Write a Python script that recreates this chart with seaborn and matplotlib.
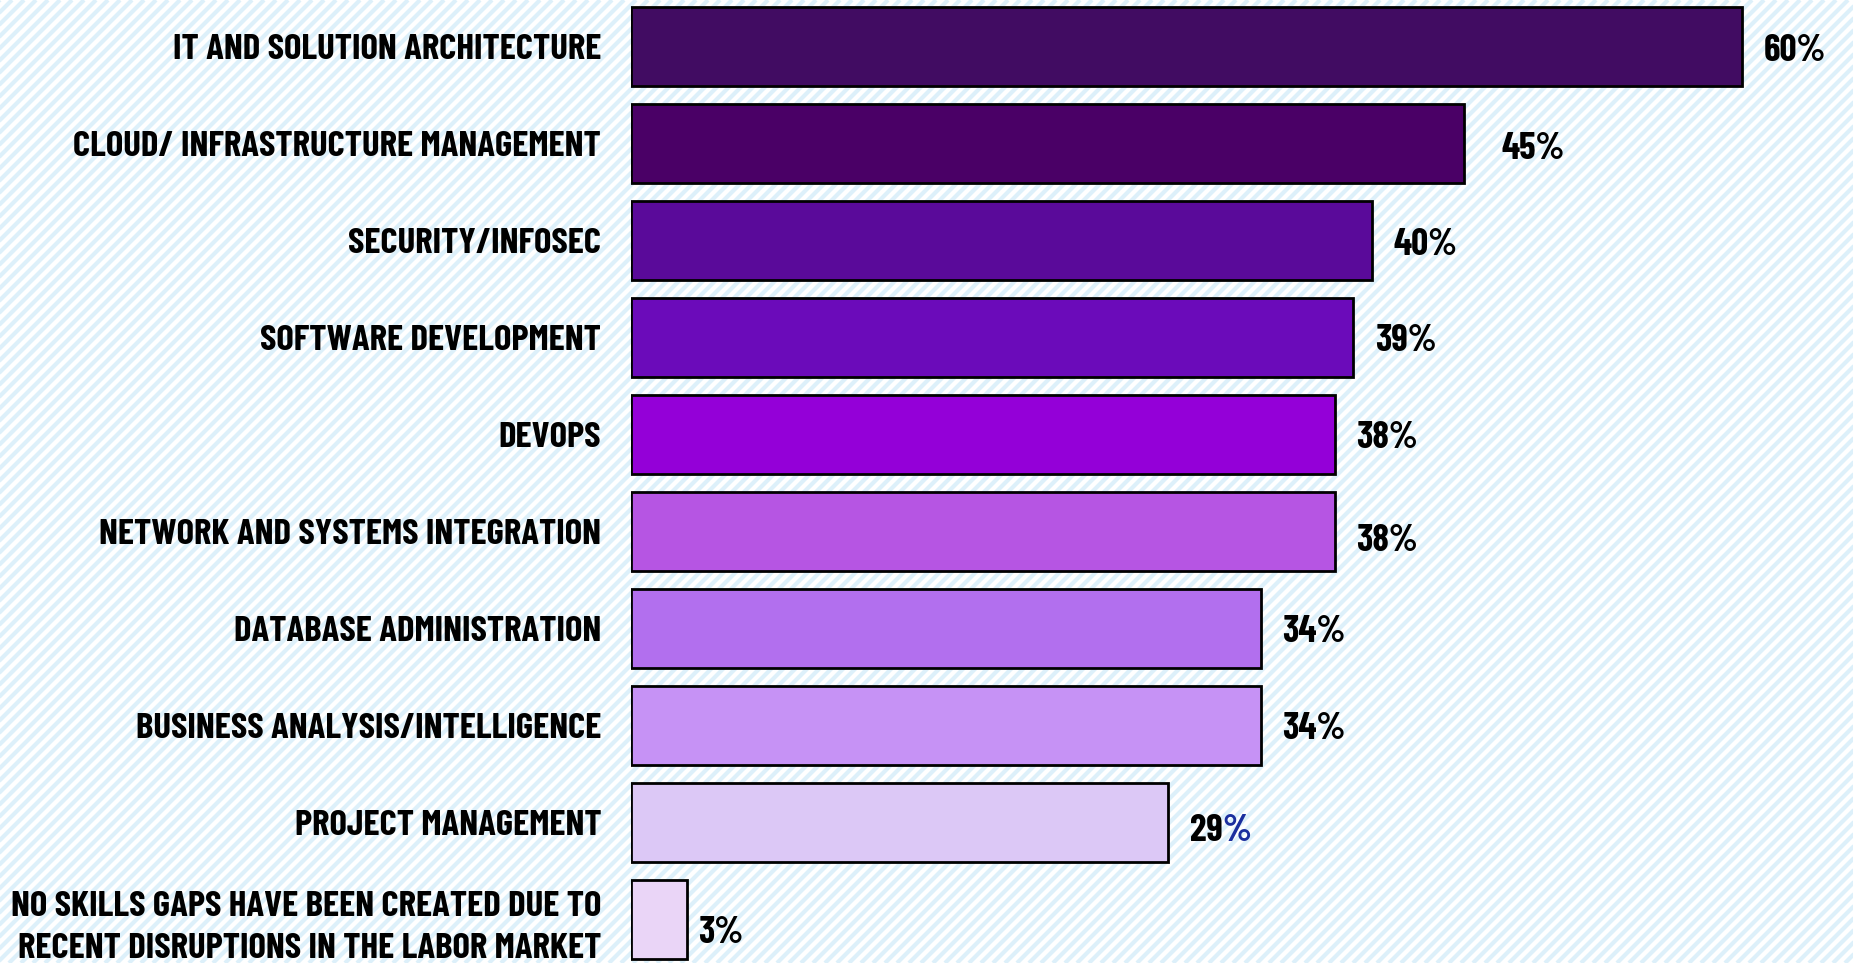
import numpy as np
import pandas as pd
import seaborn as sns
import matplotlib.pyplot as plt

categories = [
    'IT AND SOLUTION ARCHITECTURE',
    'CLOUD/ INFRASTRUCTURE MANAGEMENT',
    'SECURITY/INFOSEC',
    'SOFTWARE DEVELOPMENT',
    'DEVOPS',
    'NETWORK AND SYSTEMS INTEGRATION',
    'DATABASE ADMINISTRATION',
    'BUSINESS ANALYSIS/INTELLIGENCE',
    'PROJECT MANAGEMENT',
    'NO SKILLS GAPS HAVE BEEN CREATED DUE TO\nRECENT DISRUPTIONS IN THE LABOR MARKET',
]
values = [60, 45, 40, 39, 38, 38, 34, 34, 29, 3]
bar_colors = ['#410C62', '#4A0066', '#5A0A9A', '#6B0BBA', '#9400D8',
              '#B655E3', '#B26FEE', '#C692F5', '#DCC8F6', '#EAD5F7']

df = pd.DataFrame({'category': categories, 'value': values})

sns.set_theme(style='white')
plt.rcParams['font.family'] = ['Barlow Condensed', 'DejaVu Sans']

W, H = 1853, 963
fig = plt.figure(figsize=(W / 100, H / 100), dpi=100)
fig.patch.set_facecolor('white')

# striped background
bg = fig.add_axes([0, 0, 1, 1], zorder=0)
bg.set_xlim(0, W)
bg.set_ylim(0, H)
bg.axis('off')
for c in np.arange(-H, W + H, 12):
    bg.plot([c, c + H], [0, H], color='#DDF0FA', lw=3, solid_capstyle='butt')

ax = fig.add_axes([631 / W, 0, 1 - 631 / W, 1], zorder=1)
ax.patch.set_alpha(0)
sns.barplot(data=df, x='value', y='category', hue='category', palette=bar_colors,
            saturation=1, legend=False, orient='h', width=0.82,
            edgecolor='black', linewidth=2, ax=ax)
ax.set_xlim(0, 66)
ax.set_ylim(9.45, -0.48)
ax.set_xlabel('')
ax.set_ylabel('')
ax.set_xticks([])
for s in ax.spines.values():
    s.set_visible(False)
ax.tick_params(axis='y', length=0, pad=21.5)
for lbl in ax.get_yticklabels():
    lbl.set_fontsize(26.5)
    lbl.set_fontweight('bold')
    lbl.set_color('black')
    lbl.set_linespacing(1.4)

# small label nudges (pixels) to follow the original placement
nudge = {1: (15, -1), 5: (0, -6), 8: (0, -5), 9: (-10, -10)}
for i, v in enumerate(values):
    dx, dy = nudge.get(i, (0, 0))
    if i == 8:
        # the % sign of this one is blue in the original
        txt = ax.annotate(f'{v}', xy=(v, i), xytext=(22 + dx, -4 + dy), textcoords='offset pixels',
                          ha='left', va='center', fontsize=27, fontweight='bold', color='black')
        ax.annotate('%', xy=(1, 0), xycoords=txt, ha='left', va='bottom',
                    fontsize=27, fontweight='bold', color='#1B2F9E')
    else:
        ax.annotate(f'{v}%', xy=(v, i), xytext=(22 + dx, -4 + dy), textcoords='offset pixels',
                    ha='left', va='center', fontsize=27, fontweight='bold', color='black')

fig.savefig('out.png', dpi=100)
